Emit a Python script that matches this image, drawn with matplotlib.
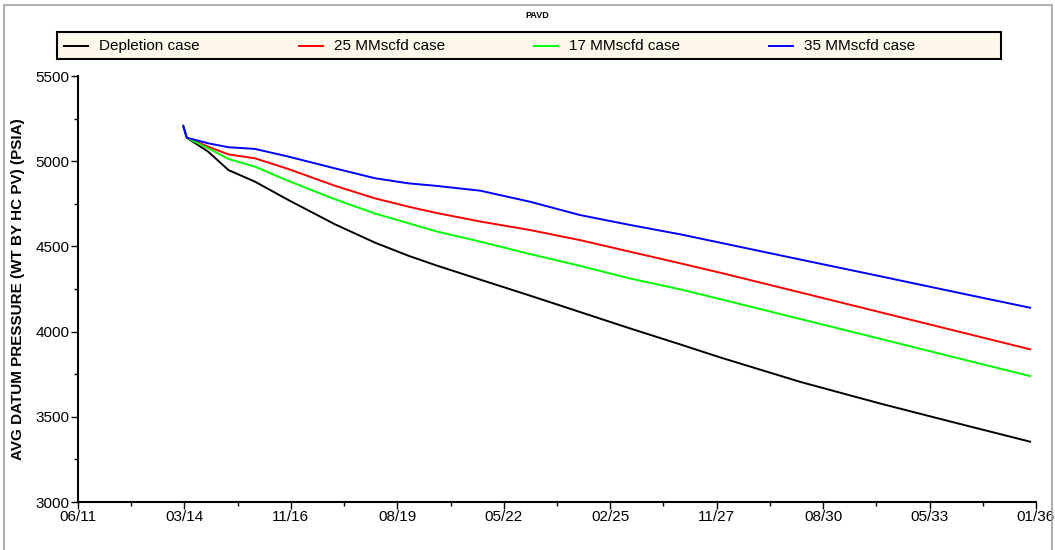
import numpy as np
import matplotlib
matplotlib.use("Agg")
import matplotlib.pyplot as plt
from matplotlib.patches import Rectangle
from matplotlib.lines import Line2D
from matplotlib.ticker import MultipleLocator

plt.rcParams['font.family'] = ['Liberation Sans', 'DejaVu Sans']

# time in decimal years
years = [2014.12, 2014.21, 2014.76, 2015.28, 2015.96, 2016.82, 2018.01, 2019.04,
         2019.90, 2020.58, 2021.74, 2023.02, 2024.30, 2025.58, 2026.87, 2027.89,
         2029.95, 2032.00, 2034.05, 2035.85]

depletion = [5207, 5138, 5056, 4948, 4880, 4772, 4630, 4522, 4445, 4391,
             4305, 4211, 4115, 4019, 3925, 3849, 3705, 3578, 3458, 3354]
case_25 = [5207, 5138, 5085, 5040, 5017, 4954, 4856, 4782, 4733, 4698,
           4646, 4596, 4537, 4469, 4401, 4346, 4230, 4114, 3998, 3896]
case_17 = [5207, 5138, 5076, 5013, 4968, 4884, 4777, 4693, 4636, 4590,
           4528, 4455, 4386, 4312, 4248, 4191, 4074, 3958, 3841, 3739]
case_35 = [5207, 5138, 5105, 5082, 5072, 5027, 4958, 4900, 4870, 4856,
           4827, 4762, 4684, 4626, 4571, 4522, 4423, 4325, 4226, 4140]

x_start, x_end = 2011.42, 2036.0
tick_labels = ['06/11', '03/14', '11/16', '08/19', '05/22',
               '02/25', '11/27', '08/30', '05/33', '01/36']

W, H = 1055, 550
fig = plt.figure(figsize=(W/100, H/100), dpi=100)
ax = fig.add_axes([78/W, 1 - 502/H, 958/W, 426/H])

ax.plot(years, depletion, color='black', lw=1.4, label='Depletion case')
ax.plot(years, case_25, color='#ff0000', lw=1.4, label='25 MMscfd case')
ax.plot(years, case_17, color='#00ff00', lw=1.4, label='17 MMscfd case')
ax.plot(years, case_35, color='#0000ff', lw=1.4, label='35 MMscfd case')

ax.set_xlim(x_start, x_end)
ax.set_ylim(3000, 5500)
major = np.linspace(x_start, x_end, len(tick_labels))
ax.set_xticks(major)
ax.set_xticklabels(tick_labels)
ax.set_xticks((major[:-1] + major[1:]) / 2, minor=True)
ax.yaxis.set_major_locator(MultipleLocator(500))
ax.yaxis.set_minor_locator(MultipleLocator(250))

for s in ['top', 'right']:
    ax.spines[s].set_visible(False)
for s in ['left', 'bottom']:
    ax.spines[s].set_linewidth(1.5)
ax.tick_params(which='major', length=5, width=1, labelsize=11, pad=1)
ax.tick_params(which='minor', length=3, width=1)

ax.set_ylabel('AVG DATUM PRESSURE (WT BY HC PV) (PSIA)', fontsize=11, fontweight='bold')
ax.yaxis.set_label_coords(-0.055, 0.5)

fig.text(537/W, 1 - 16/H, 'PAVD', ha='center', va='center', fontsize=6.5, fontweight='bold')

# legend box drawn by hand: four equal-width columns
fig.patches.append(Rectangle((57/W, 1 - 59/H), 944/W, 27/H, transform=fig.transFigure,
                             facecolor='#fdf8ea', edgecolor='black', lw=1.5))
for i, line in enumerate(ax.get_lines()):
    x0 = 64 + 235 * i
    fig.add_artist(Line2D([x0/W, (x0 + 24)/W], [1 - 46/H, 1 - 46/H],
                          transform=fig.transFigure, color=line.get_color(), lw=1.4))
    fig.text((x0 + 35)/W, 1 - 46/H, line.get_label(), ha='left', va='center', fontsize=11)

# outer border of the plot window
fig.patches.append(Rectangle((4/W, -0.02), 1048/W, 1.02 - 5/H,
                             transform=fig.transFigure, fill=False,
                             edgecolor='#a0a0a0', lw=1.2))

fig.savefig('out.png', dpi=100)
